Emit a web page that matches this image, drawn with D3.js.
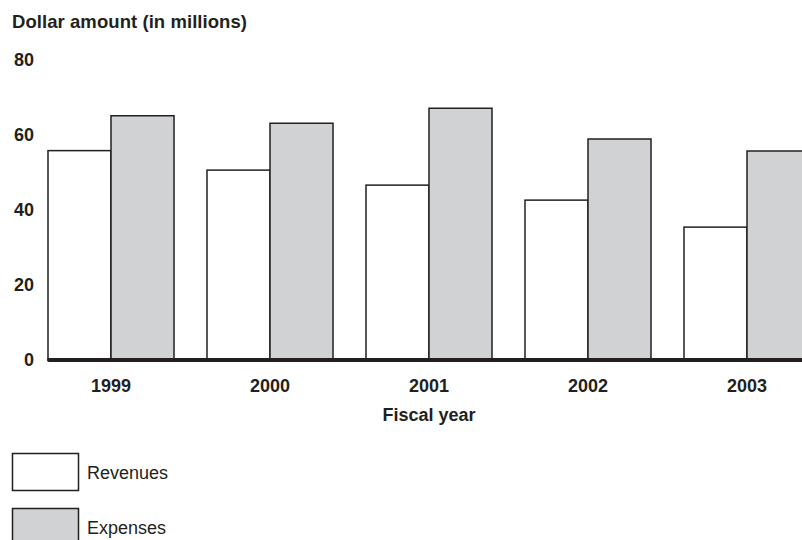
<!DOCTYPE html>
<html>
<head>
<meta charset="utf-8">
<script src="https://cdn.jsdelivr.net/npm/d3@7"></script>
<style>
  html, body { margin: 0; padding: 0; background: #fff; }
  svg { display: block; font-family: "Liberation Sans", Arial, Helvetica, sans-serif; }
</style>
</head>
<body>
<svg id="chart"></svg>
<script>
const width = 802;
const height = 540;

// Data
const years = ["1999", "2000", "2001", "2002", "2003"];
const seriesNames = ["Revenues", "Expenses"];
const revenues = [55.7, 50.5, 46.5, 42.5, 35.3];
const expenses = [65, 63, 67, 58.8, 55.6];
const yTicks = [0, 20, 40, 60, 80];

const ink = "#231f20";
const fills = { Revenues: "#ffffff", Expenses: "#d1d2d4" };

const rows = years.map((yr, i) => ({ year: yr, Revenues: revenues[i], Expenses: expenses[i] }));

const svg = d3.select("#chart")
    .attr("width", width)
    .attr("height", height)
    .attr("viewBox", [0, 0, width, height]);

const x = d3.scaleBand()
    .domain(years)
    .range([48, 810])
    .paddingInner(0.2075)
    .paddingOuter(0);

const xSeries = d3.scaleBand()
    .domain(seriesNames)
    .range([0, x.bandwidth()])
    .padding(0);

const y = d3.scaleLinear()
    .domain([0, 80])
    .range([359.5, 59.5]);

// Title
svg.append("text")
    .attr("x", 12)
    .attr("y", 28)
    .attr("fill", ink)
    .attr("font-size", 18.5)
    .attr("font-weight", "bold")
    .attr("textLength", 235)
    .text("Dollar amount (in millions)");

// Y axis labels only
const yAxis = svg.append("g")
    .attr("transform", "translate(34,0)")
    .call(d3.axisLeft(y).tickValues(yTicks).tickSize(0).tickPadding(0));
yAxis.select(".domain").remove();
yAxis.selectAll("text")
    .attr("fill", ink)
    .attr("font-size", 18)
    .attr("font-weight", "bold")
    .attr("font-family", null);

// Bars
const groups = svg.append("g")
    .selectAll("g")
    .data(rows)
    .join("g")
    .attr("transform", d => `translate(${x(d.year)},0)`);

groups.selectAll("rect")
    .data(d => seriesNames.map(s => ({ key: s, value: d[s] })))
    .join("rect")
    .attr("x", d => xSeries(d.key))
    .attr("y", d => y(d.value))
    .attr("width", xSeries.bandwidth())
    .attr("height", d => y(0) - y(d.value))
    .attr("fill", d => fills[d.key])
    .attr("stroke", ink)
    .attr("stroke-width", 1.5);

// Thick baseline
svg.append("line")
    .attr("x1", 49)
    .attr("x2", width + 5)
    .attr("y1", y(0) + 0.5)
    .attr("y2", y(0) + 0.5)
    .attr("stroke", ink)
    .attr("stroke-width", 4)
    .attr("stroke-linecap", "round");

// X axis labels
const xAxis = svg.append("g")
    .attr("transform", "translate(0,379)")
    .call(d3.axisBottom(x).tickSize(0).tickPadding(0));
xAxis.select(".domain").remove();
xAxis.selectAll("text")
    .attr("fill", ink)
    .attr("font-size", 18)
    .attr("font-weight", "bold")
    .attr("font-family", null);

svg.append("text")
    .attr("x", 429)
    .attr("y", 421)
    .attr("text-anchor", "middle")
    .attr("fill", ink)
    .attr("font-size", 18)
    .attr("font-weight", "bold")
    .text("Fiscal year");

// Legend
const legend = svg.append("g")
    .selectAll("g")
    .data(seriesNames)
    .join("g")
    .attr("transform", (d, i) => `translate(12,${453.5 + i * 55})`);

legend.append("rect")
    .attr("x", 0.5)
    .attr("y", 0)
    .attr("width", 66)
    .attr("height", 37)
    .attr("fill", d => fills[d])
    .attr("stroke", ink)
    .attr("stroke-width", 1.5);

legend.append("text")
    .attr("x", 75)
    .attr("y", 25)
    .attr("fill", ink)
    .attr("font-size", 18)
    .text(d => d);
</script>
</body>
</html>
